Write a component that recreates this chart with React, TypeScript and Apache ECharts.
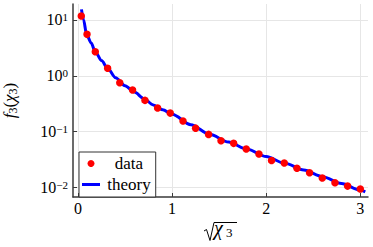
import React, { useEffect, useRef } from "react";
import * as echarts from "echarts";

const xTicks = [0, 1, 2, 3];
const yTicks = [0.01, 0.1, 1, 10];

const dataX = [0.035, 0.096, 0.184, 0.315, 0.444, 0.58, 0.712, 0.846, 0.98, 1.116, 1.25, 1.388, 1.52, 1.654, 1.788, 1.923, 2.057, 2.192, 2.327, 2.461, 2.596, 2.731, 2.865, 3.0];
const dataY = [11.76, 5.53, 2.69, 1.36, 0.749, 0.554, 0.362, 0.264, 0.214, 0.154, 0.115, 0.0889, 0.0683, 0.0614, 0.0485, 0.0395, 0.0302, 0.0272, 0.0219, 0.0182, 0.0147, 0.0121, 0.0105, 0.00929];

const theoryX = [0.037, 0.06, 0.09, 0.14, 0.184, 0.25, 0.315, 0.4, 0.5, 0.6, 0.7, 0.8, 0.9, 1.0, 1.2, 1.4, 1.6, 1.8, 2.0, 2.2, 2.4, 2.6, 2.8, 3.0, 3.053];
const theoryY = [15.5, 10.0, 5.6, 3.86, 2.69, 1.87, 1.36, 0.92, 0.66, 0.51, 0.39, 0.3, 0.245, 0.204, 0.133, 0.089, 0.0646, 0.0479, 0.0355, 0.0269, 0.0204, 0.0155, 0.0117, 0.0089, 0.0083];

const FONT = "Liberation Serif";

export default function App() {
  const ref = useRef<HTMLDivElement>(null);
  useEffect(() => {
    const chart = echarts.init(ref.current!, null, { renderer: "svg" });
    const axisColor = "#3a3a3a";
    chart.setOption({
      animation: false,
      backgroundColor: "#fff",
      grid: { left: 73, right: 5, top: 4, bottom: 50, containLabel: false, outerBoundsMode: "none" },
      xAxis: {
        type: "value",
        min: -0.053,
        max: 3.082,
        axisLine: { onZero: false, lineStyle: { color: axisColor, width: 1.5 } },
        axisTick: { inside: true, length: 4, customValues: xTicks, lineStyle: { color: axisColor } },
        axisLabel: { customValues: xTicks, margin: 3, fontFamily: FONT, fontSize: 16, color: "#000" },
        splitLine: { show: true, lineStyle: { color: "#e6e6e6", width: 1 } },
      },
      yAxis: {
        type: "log",
        logBase: 10,
        min: 0.0067,
        max: 19.36,
        axisLine: { show: true, onZero: false, lineStyle: { color: axisColor, width: 1.5 } },
        axisTick: { show: true, inside: true, length: 4, customValues: yTicks, lineStyle: { color: axisColor } },
        axisLabel: {
          customValues: yTicks,
          margin: 5,
          fontFamily: FONT,
          fontSize: 16,
          formatter: (v: number) => {
            const e = Math.round(Math.log10(v));
            return `{b|10}{s|${e < 0 ? "\u2212" + -e : e}}`;
          },
          rich: {
            b: { fontFamily: FONT, fontSize: 16, lineHeight: 16, verticalAlign: "bottom", padding: [1, 0, 0, 0], color: "#000" },
            s: { fontFamily: FONT, fontSize: 11, lineHeight: 11, verticalAlign: "top", color: "#000" },
          },
        },
        splitLine: { show: true, lineStyle: { color: "#e6e6e6", width: 1 } },
        name: "{i|f}{s|3}{n|(}{i|\u03c7}{s|3}{n|)}",
        nameLocation: "middle",
        nameRotate: 90,
        nameGap: 54,
        nameTextStyle: {
          fontFamily: FONT,
          fontSize: 17,
          rich: {
            i: { fontFamily: FONT, fontSize: 17, fontStyle: "italic", lineHeight: 18, verticalAlign: "top", color: "#000" },
            n: { fontFamily: FONT, fontSize: 17, lineHeight: 18, verticalAlign: "top", color: "#000" },
            s: { fontFamily: FONT, fontSize: 12, lineHeight: 12, padding: [9, 0, 0, 0], verticalAlign: "bottom", color: "#000" },
          },
        },
      },
      legend: {
        orient: "vertical",
        left: 79,
        top: 152,
        padding: [3, 5, 4, 3],
        itemGap: 4,
        itemWidth: 18,
        itemHeight: 7,
        borderColor: "#333",
        borderWidth: 1,
        backgroundColor: "#fff",
        data: [
          { name: "data", icon: "circle" },
          { name: "theory", icon: "path://M0,0L18,0L18,3L0,3Z" },
        ],
        formatter: (name: string) => `{c|${name}}`,
        textStyle: {
          fontFamily: FONT,
          fontSize: 17,
          rich: {
            c: { width: 48, align: "center", fontFamily: FONT, fontSize: 17, color: "#000" },
          },
        },
      },
      series: [
        {
          name: "theory",
          type: "line",
          data: theoryX.map((x, i) => [x, theoryY[i]]),
          symbol: "none",
          smooth: 0.3,
          smoothMonotone: "x",
          lineStyle: { color: "#0000ff", width: 3 },
          itemStyle: { color: "#0000ff" },
          z: 2,
        },
        {
          name: "data",
          type: "scatter",
          data: dataX.map((x, i) => [x, dataY[i]]),
          symbol: "circle",
          symbolSize: 7.5,
          itemStyle: { color: "#ff0000", opacity: 1 },
          z: 3,
        },
      ],
      graphic: [
        {
          type: "polyline",
          shape: { points: [[204, 231], [206.5, 229.5], [210, 240.5], [214, 222.5], [237, 222.5]] },
          style: { stroke: "#000", lineWidth: 1, fill: null },
        },
        {
          type: "text",
          x: 214,
          y: 228,
          style: { text: "\u03c7", fontFamily: FONT, fontStyle: "italic", fontSize: 20, fill: "#000", textVerticalAlign: "middle" },
        },
        {
          type: "text",
          x: 226,
          y: 232.5,
          style: { text: "3", fontFamily: FONT, fontSize: 13, fill: "#000", textVerticalAlign: "middle" },
        },
      ],
    });
    return () => chart.dispose();
  }, []);
  return <div ref={ref} style={{ position: "fixed", left: 0, top: 0, width: 373, height: 247 }} />;
}
